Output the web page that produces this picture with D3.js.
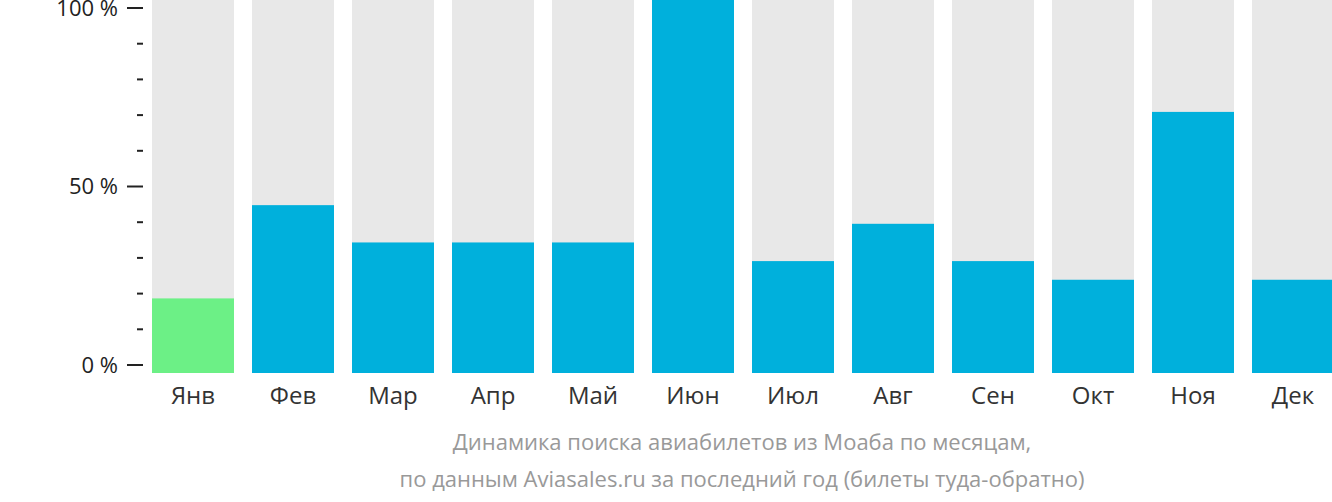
<!DOCTYPE html><html><head><meta charset="utf-8">
<script src="https://cdn.jsdelivr.net/npm/d3@7"></script>
<style>body{margin:0;background:#fff}text{font-family:"Open Sans",sans-serif}</style></head><body>
<svg id="c" width="1332" height="502"></svg>
<script>
const months=["Янв","Фев","Мар","Апр","Май","Июн","Июл","Авг","Сен","Окт","Ноя","Дек"];
const values=[20,45,35,35,35,100,30,40,30,25,70,25];
const highlight=[0];
const tickValues=[0,50,100];
const svg=d3.select("#c");
const x=d3.scaleBand().domain(months).range([143,1343]).paddingInner(0.18).paddingOuter(0.09);
const yBar=d3.scaleLinear().domain([0,100]).range([373,0]);
const yAx=d3.scaleLinear().domain([0,100]).range([365,8]);
svg.selectAll(".bg").data(months).join("rect").attr("x",d=>x(d)).attr("width",x.bandwidth())
 .attr("y",0).attr("height",373).attr("fill","#e8e8e8");
svg.selectAll(".v").data(values).join("rect").attr("x",(d,i)=>x(months[i])).attr("width",x.bandwidth())
 .attr("y",d=>yBar(d)).attr("height",d=>373-yBar(d)).attr("fill",(d,i)=>highlight.includes(i)?"#6cf086":"#00b0dc");
const minor=d3.range(0,101,10);
svg.selectAll(".mt").data(minor).join("line").attr("x1",d=>d%50===0?127:137).attr("x2",143)
 .attr("y1",d=>yAx(d)).attr("y2",d=>yAx(d)).attr("stroke","#222").attr("stroke-width",2);
svg.selectAll(".tl").data(tickValues).join("text").attr("x",118).attr("y",d=>yAx(d)).attr("dy","0.35em")
 .attr("text-anchor","end").attr("font-size",22).attr("fill","#222").text(d=>d+" %");
svg.selectAll(".ml").data(months).join("text").attr("x",d=>x(d)+x.bandwidth()/2).attr("y",404)
 .attr("text-anchor","middle").attr("font-size",24).attr("fill","#333").text(d=>d);
svg.append("text").attr("x",742).attr("y",450).attr("text-anchor","middle").attr("font-size",22).attr("fill","#999").text("Динамика поиска авиабилетов из Моаба по месяцам,");
svg.append("text").attr("x",742).attr("y",487).attr("text-anchor","middle").attr("font-size",22).attr("fill","#999").text("по данным Aviasales.ru за последний год (билеты туда-обратно)");
</script></body></html>
